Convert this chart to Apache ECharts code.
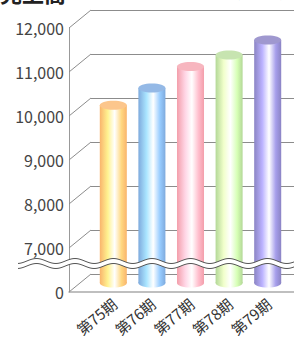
<!DOCTYPE html>
<html>
<head>
<meta charset="utf-8">
<script src="https://cdn.jsdelivr.net/npm/echarts@6/dist/echarts.min.js"></script>
<style>
  html, body { margin: 0; padding: 0; background: #fff; }
  #chart { width: 294px; height: 339px; }
</style>
</head>
<body>
<div id="chart"></div>
<script>
var periods = ['第75期', '第76期', '第77期', '第78期', '第79期'];
var sales = [10040, 10430, 10920, 11180, 11520];
var tickValues = [6000, 7000, 8000, 9000, 10000, 11000, 12000];
var sideColors = ['#f9b46c', '#7eaadd', '#f39eaa', '#b3d897', '#8b84c4'];
var topColors = ['#fcc68c', '#94b9e6', '#f7b6bf', '#c7e4b0', '#9f98cf'];

var chart = echarts.init(document.getElementById('chart'), null, { renderer: 'svg' });

// depth offset between front frame and back wall
var DX = 22, DY = 18;
var font = '"Noto Sans CJK JP", "Noto Sans", sans-serif';

function fmt(v) {
  if (v === 6000) return '0';
  return String(v).replace(/\B(?=(\d{3})+(?!\d))/g, ',');
}

// wavy break band
function wave(offset) {
  var pts = [];
  for (var x = 18; x <= 294; x += 2) {
    pts.push([x, 261 + offset - 2.5 * Math.cos(2 * Math.PI * (x - 113.5) / 38.5)]);
  }
  return pts;
}
var up = wave(0), low = wave(5);
var band = up.concat(low.slice().reverse());

chart.setOption({
  animation: false,
  grid: [
    { left: 91, right: 0, top: 10, bottom: 65 },   // back wall
    { left: 69, right: 0, top: 28, bottom: 47 },   // front frame
    { left: 94, right: 7, top: 19, bottom: 56 },   // bars (mid depth)
    { left: 95, right: 6, top: 19, bottom: 56 }    // period labels
  ],
  xAxis: [
    { gridIndex: 0, type: 'value', min: 0, max: 1, show: false },
    { gridIndex: 1, type: 'value', min: 0, max: 1,
      axisLine: { show: true, onZero: false, lineStyle: { color: '#aaa', width: 1.5 } },
      axisTick: { show: false }, axisLabel: { show: false }, splitLine: { show: false } },
    { gridIndex: 2, type: 'category', data: periods, show: false },
    { gridIndex: 3, type: 'category', data: periods,
      axisLine: { show: false }, axisTick: { show: false },
      axisLabel: { rotate: 40, margin: 20, color: '#333', fontSize: 15, fontFamily: font } }
  ],
  yAxis: [
    { gridIndex: 0, type: 'value', min: 6000, max: 12000, interval: 1000,
      axisLine: { show: false }, axisTick: { show: false }, axisLabel: { show: false },
      splitLine: { lineStyle: { color: '#8c8c8c', width: 1 } } },
    { gridIndex: 1, type: 'value', min: 6000, max: 12000, interval: 1000,
      axisLine: { show: true, lineStyle: { color: '#999', width: 1 } },
      axisTick: { show: false }, splitLine: { show: false },
      axisLabel: { margin: 5, color: '#444', fontSize: 16, fontFamily: font, formatter: fmt } },
    { gridIndex: 2, type: 'value', min: 6000, max: 12000, interval: 1000, show: false },
    { gridIndex: 3, type: 'value', min: 6000, max: 12000, show: false }
  ],
  series: [
    {
      type: 'custom',
      xAxisIndex: 1, yAxisIndex: 1,
      data: tickValues.map(function (v) { return [0, v]; }),
      renderItem: function (params, api) {
        var p = api.coord([0, api.value(1)]);
        return {
          type: 'line',
          shape: { x1: p[0], y1: p[1], x2: p[0] + DX, y2: p[1] - DY },
          style: { stroke: '#8c8c8c', lineWidth: 1 }
        };
      }
    },
    {
      type: 'custom',
      xAxisIndex: 2, yAxisIndex: 2,
      data: sales.map(function (v, i) { return [i, v]; }),
      renderItem: function (params, api) {
        var i = params.dataIndex;
        var top = api.coord([api.value(0), api.value(1)]);
        var base = api.coord([api.value(0), 6000]);
        var w = api.size([1, 0])[0] * 0.7;
        var rx = w / 2, ry = 4.5;
        var grad = new echarts.graphic.LinearGradient(0, 0, 1, 0, [
          { offset: 0, color: sideColors[i] },
          { offset: 0.3, color: echarts.color.lift(sideColors[i], -0.35) },
          { offset: 0.55, color: '#ffffff' },
          { offset: 0.8, color: echarts.color.lift(sideColors[i], -0.2) },
          { offset: 1, color: sideColors[i] }
        ]);
        return {
          type: 'group',
          children: [
            { type: 'ellipse', shape: { cx: top[0], cy: base[1], rx: rx, ry: ry }, style: { fill: grad } },
            { type: 'rect', shape: { x: top[0] - rx, y: top[1], width: w, height: base[1] - top[1] }, style: { fill: grad } },
            { type: 'ellipse', shape: { cx: top[0], cy: top[1], rx: rx, ry: ry }, style: { fill: topColors[i] } }
          ]
        };
      }
    }
  ],
  graphic: [
    { type: 'polygon', z: 100, shape: { points: band }, style: { fill: '#fff' } },
    { type: 'polyline', z: 101, shape: { points: up }, style: { stroke: '#555', lineWidth: 1, fill: null } },
    { type: 'polyline', z: 101, shape: { points: low }, style: { stroke: '#555', lineWidth: 1, fill: null } },
    { type: 'text', x: 0, y: -19, z: 100,
      style: { text: '売上高', font: 'bold 22px ' + font, fill: '#222' } },
    { type: 'text', x: 236, y: -14, z: 100,
      style: { text: '(百万円)', font: '13px ' + font, fill: '#555' } }
  ]
});
</script>
</body>
</html>
